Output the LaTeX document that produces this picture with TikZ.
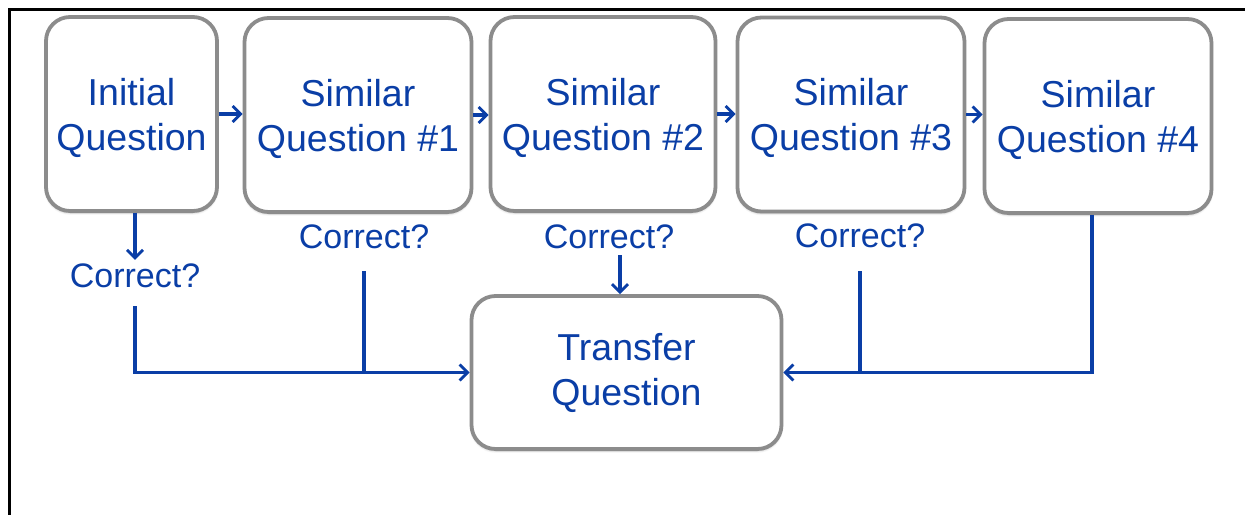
\documentclass[tikz,border=0pt]{standalone}
\usepackage{fontspec}
\setmainfont{Liberation Sans}
\usetikzlibrary{arrows.meta,shadows.blur}
\definecolor{qblue}{RGB}{10,62,166}
\definecolor{qgray}{RGB}{140,140,140}
\begin{document}
\begin{tikzpicture}[x=1pt,y=-1pt,
  qbox/.style={draw=qgray, line width=3.8pt, rounded corners=24pt, fill=white,
    text=qblue, align=center, inner sep=0pt,
    font=\fontsize{37.5}{45}\selectfont,
    blur shadow={shadow xshift=0pt, shadow yshift=-2pt, shadow blur steps=6, shadow opacity=25}},
  topbox/.style={qbox, minimum width=227pt, minimum height=194pt, text height=80pt},
  qlabel/.style={text=qblue, inner sep=4pt, font=\fontsize{34}{40}\selectfont},
  conn/.style={draw=qblue, line width=3.2pt},
  arr/.style={conn, -{Straight Barb[length=8pt,width=16pt,line width=2.8pt]}}]
\useasboundingbox (0,0) rectangle (1245,515);
\draw[line width=3pt] (8,9.5) -- (1245,9.5);
\draw[line width=3pt] (9,8) -- (9,515);

\node[topbox, minimum width=171pt] (b1) at (131.5,114) {Initial\\Question};
\node[topbox] (b2) at (358,115) {Similar\\Question \#1};
\node[topbox, minimum width=225pt] (b3) at (603,114) {Similar\\Question \#2};
\node[topbox] (b4) at (851,114.5) {Similar\\Question \#3};
\node[topbox] (b5) at (1098,116) {Similar\\Question \#4};
\node[qbox, minimum width=310pt, minimum height=153pt] (T) at (626.5,372.5) {Transfer\\Question};

\node[qlabel] (c0) at (135,276) {Correct?};
\node[qlabel] (c1) at (364,237) {Correct?};
\node[qlabel] (c2) at (609,237) {Correct?};
\node[qlabel] (c3) at (860,236) {Correct?};

\draw[arr] (b1.east) -- (b1.east -| b2.west);
\draw[arr] (b2.east) -- (b2.east -| b3.west);
\draw[arr] (b3.east) -- (b3.east -| b4.west);
\draw[arr] (b4.east) -- (b4.east -| b5.west);

\draw[arr] (c0.north |- b1.south) -- (c0.north);
\draw[arr] ([yshift=-14pt]c0.south) |- (T.west);
\draw[conn] ([yshift=-18pt]c1.south) -- (c1.south |- T.west);
\draw[arr] ([xshift=11pt,yshift=-2pt]c2.south) -- ([xshift=11pt]c2.south |- T.north);
\draw[conn] ([yshift=-19pt]c3.south) -- (c3.south |- T.east);
\draw[arr] ([xshift=-6pt]b5.south) |- (T.east);
\end{tikzpicture}
\end{document}
